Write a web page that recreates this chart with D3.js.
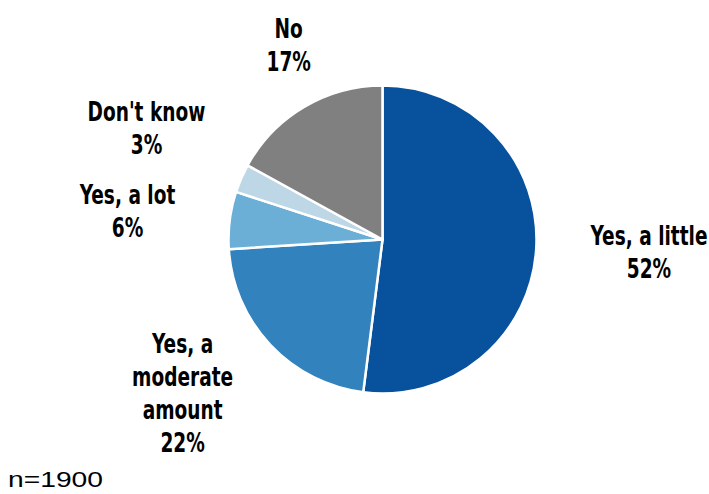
<!DOCTYPE html>
<html>
<head>
<meta charset="utf-8">
<script src="https://cdn.jsdelivr.net/npm/d3@7"></script>
<style>
    body { margin: 0; background: #fff; }
    svg { display: block; }
    .slice-label {
        font-family: "DejaVu Sans", sans-serif;
        font-stretch: condensed;
        font-weight: bold;
        font-size: 27px;
        fill: #000;
    }
    .note {
        font-family: "Liberation Sans", Arial, sans-serif;
        font-size: 22px;
        fill: #000;
    }
</style>
</head>
<body>
<svg id="chart" width="709" height="494"></svg>
<script>
// Chart data
const categories = ['Yes, a little', 'Yes, a moderate amount', 'Yes, a lot', "Don't know", 'No'];
const values = [52, 22, 6, 3, 17];
const labelLines = [
    ['Yes, a little'],
    ['Yes, a', 'moderate', 'amount'],
    ['Yes, a lot'],
    ["Don't know"],
    ['No']
];
const sampleNote = 'n=1900';

// Slice colours
const colors = ['#08519c', '#3182bd', '#6baed6', '#bdd7e7', '#808080'];

// Layout
const width = 709, height = 494;
const cx = 382.5, cy = 239.5, radius = 154;
const labelRadius = 255;
const lineHeight = 33;
const widestLabelWidth = 117; // width of "Yes, a little" in the original
// small nudges so labels sit where the original placed them
const labelNudge = {
    'Yes, a little': [12, -4],
    'Yes, a moderate amount': [-14, -22],
    'Yes, a lot': [-2, 3],
    "Don't know": [-2, -11],
    'No': [36, 24]
};

const rows = categories.map((c, i) => ({ name: c, value: values[i], lines: labelLines[i] }));

const svg = d3.select('#chart');
const g = svg.append('g').attr('transform', `translate(${cx},${cy})`);

const color = d3.scaleOrdinal().domain(categories).range(colors);

const pie = d3.pie()
    .sort(null)
    .value(d => d.value);

const arc = d3.arc().innerRadius(0).outerRadius(radius);
const labelArc = d3.arc().innerRadius(labelRadius).outerRadius(labelRadius);

const arcs = pie(rows);

// Slices
g.selectAll('path.slice')
    .data(arcs)
    .enter().append('path')
    .attr('class', 'slice')
    .attr('d', arc)
    .attr('fill', d => color(d.data.name))
    .attr('stroke', '#fff')
    .attr('stroke-width', 2.5)
    .attr('stroke-linejoin', 'round');

// The original uses a narrow font; measure the fallback and squeeze it to fit
const probe = svg.append('text').attr('class', 'slice-label').text('Yes, a little');
const squeeze = Math.min(1, widestLabelWidth / probe.node().getComputedTextLength());
probe.remove();

// Labels: category lines plus percentage, one text per line
arcs.forEach(d => {
    const [x0, y0] = labelArc.centroid(d);
    const nudge = labelNudge[d.data.name] || [0, 0];
    const x = x0 + nudge[0];
    const lines = d.data.lines.concat([d.data.value + '%']);
    const top = y0 + nudge[1] - (lines.length - 1) * lineHeight / 2 + 10;
    lines.forEach((line, i) => {
        g.append('text')
            .attr('class', 'slice-label')
            .attr('text-anchor', 'middle')
            .attr('transform', `translate(${x},${top + i * lineHeight}) scale(${squeeze},1)`)
            .text(line);
    });
});

// Sample size note
svg.append('text')
    .attr('class', 'note')
    .attr('x', 8)
    .attr('y', 487)
    .attr('textLength', 95)
    .attr('lengthAdjust', 'spacingAndGlyphs')
    .text(sampleNote);
</script>
</body>
</html>
